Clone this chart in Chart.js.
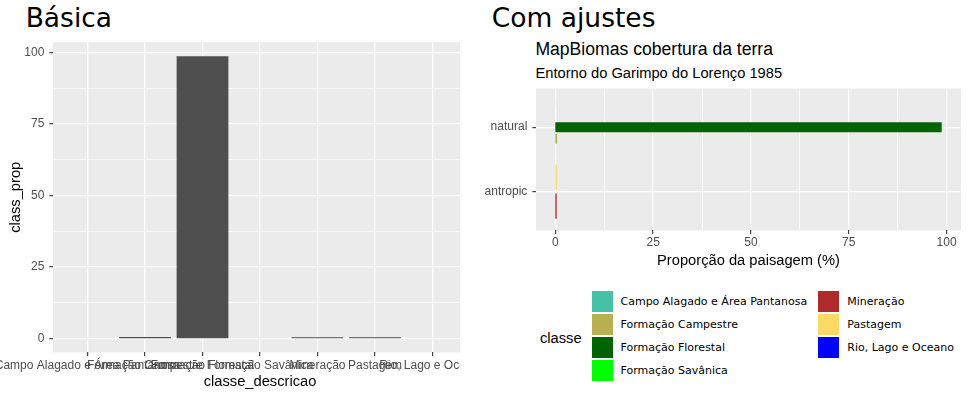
<!DOCTYPE html>
<html><head><meta charset="utf-8">
<script src="https://cdn.jsdelivr.net/npm/chart.js@4"></script>
<style>
html,body{margin:0;padding:0;background:#fff;}
body{width:969px;height:397px;overflow:hidden;position:relative;font-family:"Liberation Sans",Arial,sans-serif;color:#000;}
.abs{position:absolute;white-space:nowrap;}
.big{font-family:"DejaVu Sans";font-size:26.5px;line-height:26.5px;}
.key{position:absolute;width:21.3px;height:21.3px;}
.lab{position:absolute;font-family:"DejaVu Sans";font-size:11px;line-height:21.3px;height:21.3px;white-space:nowrap;}
</style></head><body>
<div class="abs big" style="left:25.7px;top:4.5px">Básica</div>
<div class="abs big" style="left:491.8px;top:4.5px">Com ajustes</div>
<div class="abs" style="left:535.4px;top:41px;font-size:17.6px;line-height:17.6px">MapBiomas cobertura da terra</div>
<div class="abs" style="left:535.5px;top:66.4px;font-size:14.7px;line-height:14.7px">Entorno do Garimpo do Lorenço 1985</div>
<div class="abs" style="left:0;top:30px;width:460px;height:367px;overflow:hidden"><canvas id="c1" width="480" height="367"></canvas></div>
<div class="abs" style="left:480px;top:80px;width:489px;height:196px"><canvas id="c2" width="489" height="196"></canvas></div>
<div class="abs" style="left:540px;top:330.9px;font-size:14.7px;line-height:14.7px">classe</div>
<div id="legend"></div>
<script>
// ---- data ----
const classes = ["Campo Alagado e Área Pantanosa","Formação Campestre","Formação Florestal","Formação Savânica","Mineração","Pastagem","Rio, Lago e Oceano"];
const classProp = [0.02, 0.45, 98.75, 0.02, 0.35, 0.40, 0.01];
const classGroup = ["natural","natural","natural","natural","antropic","antropic","natural"];
const classColors = ["#45C2A5","#B8AF4F","#006400","#00FF00","#AF2A2A","#FFD966","#0000FF"];
const groups = ["antropic","natural"];           // bottom to top
const propMajorTicks = [0,25,50,75,100];
const propMinorTicks = [12.5,37.5,62.5,87.5];

// ---- helpers ----
const AXIS_FONT = {family:"'Liberation Sans', Arial, sans-serif", size:12};
const TITLE_FONT = {family:"'Liberation Sans', Arial, sans-serif", size:14.7};
const maxProp = Math.max(...classProp);
const pMin = 0 - 0.05*maxProp, pMax = maxProp + 0.05*maxProp;
const propTicks = propMajorTicks.concat(propMinorTicks).sort((a,b)=>a-b);
const isMajorProp = v => propMajorTicks.includes(v);
// bars start (effectively) at zero without Chart.js shifting them off the zero grid line
const BAR_BASE = 1e-9;

const panelBg = {id:'panelBg', beforeDraw(chart){
  const {ctx, chartArea:a} = chart;
  ctx.save(); ctx.fillStyle='#EBEBEB';
  ctx.fillRect(a.left, a.top, a.right-a.left, a.bottom-a.top);
  ctx.restore();
}};
function grid(isMajor){
  return {
    offset:false, color:'#FFFFFF',
    lineWidth: c => (c.tick && !isMajor(c.tick.value)) ? 0.65 : 1.3,
    drawTicks:true, tickLength:3.7, tickWidth:1.1,
    tickColor: c => (c.tick && !isMajor(c.tick.value)) ? 'rgba(0,0,0,0)' : '#333333'
  };
}

// ---- left chart: Básica ----
new Chart(document.getElementById('c1'), {
  type:'bar',
  data:{datasets:[{
    data: classes.map((c,i)=>({x:i, y:classProp[i]})),
    backgroundColor:'#4F4F4F', borderWidth:0, inflateAmount:0, base:BAR_BASE,
    categoryPercentage:1, barPercentage:0.9
  }]},
  options:{
    responsive:false, animation:false,
    layout:{padding:{left:0,right:13,top:11,bottom:0}},
    plugins:{legend:{display:false}, tooltip:{enabled:false}},
    scales:{
      x:{type:'linear', offset:false, bounds:'data', min:-0.6, max:classes.length-0.4,
         afterBuildTicks:s=>{ s.ticks = classes.map((c,i)=>({value:i})); },
         afterFit:s=>{ s.height=44.6; s.paddingLeft=0; s.paddingRight=0; },
         ticks:{autoSkip:false, maxRotation:0, minRotation:0, padding:2.7, color:'#4D4D4D', font:AXIS_FONT,
                callback:v=>classes[v]},
         grid:grid(()=>true), border:{display:false},
         title:{display:true, text:'classe_descricao', color:'#000', font:TITLE_FONT, padding:{top:0,bottom:6.7}}},
      y:{type:'linear', bounds:'data', min:pMin, max:pMax,
         afterBuildTicks:s=>{ s.ticks = propTicks.map(v=>({value:v})); },
         afterFit:s=>{ s.width=53; },
         ticks:{autoSkip:false, padding:5, color:'#4D4D4D', font:AXIS_FONT,
                callback:v=>isMajorProp(v)?String(v):''},
         grid:grid(isMajorProp), border:{display:false},
         title:{display:true, text:'class_prop', color:'#000', font:TITLE_FONT, padding:{top:7,bottom:0}}}
    }
  },
  plugins:[panelBg]
});

// ---- right chart: Com ajustes ----
const order = classes.map((c,i)=>i).reverse();
const topDown = groups.slice().reverse();
new Chart(document.getElementById('c2'), {
  type:'bar',
  data:{datasets: order.map(i=>({
    label: classes[i], backgroundColor: classColors[i], borderWidth:0, inflateAmount:0, base:BAR_BASE,
    categoryPercentage:0.9, barPercentage:0.87, skipNull:true,
    data: topDown.map(g=>({y: groups.indexOf(g), x: classGroup[i]===g ? classProp[i] : null}))
  }))},
  options:{
    indexAxis:'y', responsive:false, animation:false,
    layout:{padding:{left:0,right:8,top:8.5,bottom:0}},
    plugins:{legend:{display:false}, tooltip:{enabled:false}},
    scales:{
      x:{type:'linear', bounds:'data', min:pMin, max:pMax,
         afterBuildTicks:s=>{ s.ticks = propTicks.map(v=>({value:v})); },
         afterFit:s=>{ s.height=45.7; s.paddingLeft=0; s.paddingRight=0; },
         ticks:{autoSkip:false, maxRotation:0, minRotation:0, padding:1.5, color:'#4D4D4D', font:AXIS_FONT,
                callback:v=>isMajorProp(v)?String(v):''},
         grid:grid(isMajorProp), border:{display:false},
         title:{display:true, text:'Proporção da paisagem (%)', color:'#000', font:TITLE_FONT, padding:{top:0,bottom:6.2}}},
      y:{type:'linear', offset:false, bounds:'data', min:-0.6, max:groups.length-0.4,
         afterBuildTicks:s=>{ s.ticks = groups.map((g,i)=>({value:i})); },
         afterFit:s=>{ s.width=56; s.paddingTop=0; s.paddingBottom=0; },
         ticks:{autoSkip:false, padding:5, color:'#4D4D4D', font:AXIS_FONT, callback:v=>groups[v]},
         grid:grid(()=>true), border:{display:false}}
    }
  },
  plugins:[panelBg]
});

// ---- legend (built from the data arrays) ----
const leg = document.getElementById('legend');
const colKeyX = [592, 817.7], colLabX = [620.5, 847.3];
classes.forEach((c,i)=>{
  const col = Math.floor(i/4), row = i%4, top = 291 + 22.9*row;
  const k = document.createElement('div'); k.className='key';
  k.style.left = colKeyX[col]+'px'; k.style.top = top+'px'; k.style.background = classColors[i];
  const l = document.createElement('div'); l.className='lab';
  l.style.left = colLabX[col]+'px'; l.style.top = top+'px'; l.textContent = c;
  leg.appendChild(k); leg.appendChild(l);
});
</script>
</body></html>
